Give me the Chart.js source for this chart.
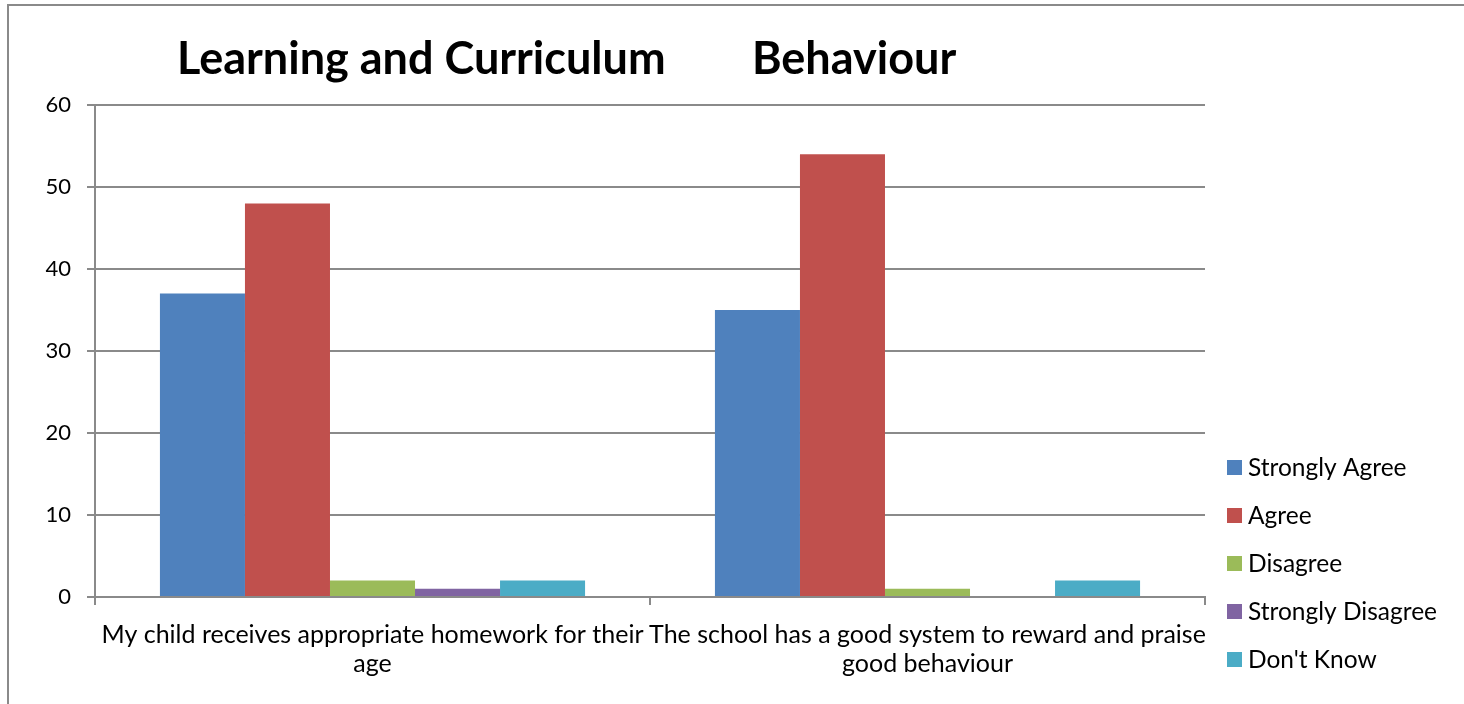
<!DOCTYPE html>
<html>
<head>
<meta charset="utf-8">
<script src="https://cdn.jsdelivr.net/npm/chart.js@4/dist/chart.umd.min.js"></script>
<style>
  html, body { margin: 0; padding: 0; background: #fff; }
  #wrap { position: relative; width: 1464px; height: 704px; overflow: hidden; }
  #frame {
    position: absolute; left: 7px; top: 4px; width: 1500px; height: 800px;
    border-left: 2px solid #8a8a8a; border-top: 2px solid #8a8a8a;
  }
  canvas { position: absolute; left: 0; top: 0; }
</style>
</head>
<body>
<div id="wrap">
  <div id="frame"></div>
  <canvas id="chart" width="1464" height="704"></canvas>
</div>
<script>
const categories = [
  ["My child receives appropriate homework for their", "age"],
  ["The school has a good system to reward and praise", "good behaviour"]
];
const seriesNames = ["Strongly Agree", "Agree", "Disagree", "Strongly Disagree", "Don't Know"];
const stronglyAgree = [37, 35];
const agree = [48, 54];
const disagree = [2, 1];
const stronglyDisagree = [1, 0];
const dontKnow = [2, 2];
const yTicks = [0, 10, 20, 30, 40, 50, 60];
const titleParts = ["Learning and Curriculum", "Behaviour"];

const colors = ["#4F81BD", "#C0504D", "#9BBB59", "#8064A2", "#4BACC6"];
const seriesValues = [stronglyAgree, agree, disagree, stronglyDisagree, dontKnow];
const FONT = "Lato, Carlito, Calibri, sans-serif";

// title and legend are placed like the original
const extrasPlugin = {
  id: "extras",
  afterDraw(chart) {
    const ctx = chart.ctx;
    ctx.save();
    ctx.fillStyle = "#000";
    ctx.font = "bold 45px " + FONT;
    ctx.textBaseline = "alphabetic";
    ctx.textAlign = "left";
    ctx.fillText(titleParts[0], 177, 74);
    ctx.fillText(titleParts[1], 752, 74);

    ctx.font = "24.5px " + FONT;
    ctx.textBaseline = "middle";
    chart.data.datasets.forEach((ds, i) => {
      const y = 467 + i * 48;
      ctx.fillStyle = ds.backgroundColor;
      ctx.fillRect(1227, y - 7, 15, 15);
      ctx.fillStyle = "#000";
      ctx.fillText(ds.label, 1248, y + 1);
    });
    ctx.restore();
  }
};

new Chart(document.getElementById("chart"), {
  type: "bar",
  data: {
    labels: categories,
    datasets: seriesNames.map((name, i) => ({
      label: name,
      data: seriesValues[i],
      backgroundColor: colors[i],
      borderWidth: 0,
      barPercentage: 1,
      categoryPercentage: 0.766
    }))
  },
  options: {
    responsive: false,
    animation: false,
    layout: { padding: { left: 0, right: 259, top: 105, bottom: 0 } },
    plugins: {
      legend: { display: false },
      title: { display: false },
      tooltip: { enabled: false }
    },
    scales: {
      x: {
        grid: {
          offset: true,
          drawOnChartArea: false,
          drawTicks: true,
          tickLength: 8,
          color: "#8a8a8a",
          lineWidth: 2
        },
        border: { display: true, color: "#8a8a8a", width: 2 },
        ticks: {
          color: "#000",
          font: { family: FONT, size: 25, lineHeight: 1.14 },
          padding: 16,
          maxRotation: 0,
          autoSkip: false
        },
        afterFit(scale) { scale.height = 107; }
      },
      y: {
        min: 0,
        max: 60,
        afterBuildTicks(scale) { scale.ticks = yTicks.map(v => ({ value: v })); },
        grid: {
          color: "#8a8a8a",
          lineWidth: 2,
          tickLength: 8
        },
        border: { display: true, color: "#8a8a8a", width: 2 },
        ticks: {
          color: "#000",
          font: { family: FONT, size: 22 },
          padding: 16
        },
        afterFit(scale) { scale.width = 95; }
      }
    }
  },
  plugins: [extrasPlugin]
});
</script>
</body>
</html>
